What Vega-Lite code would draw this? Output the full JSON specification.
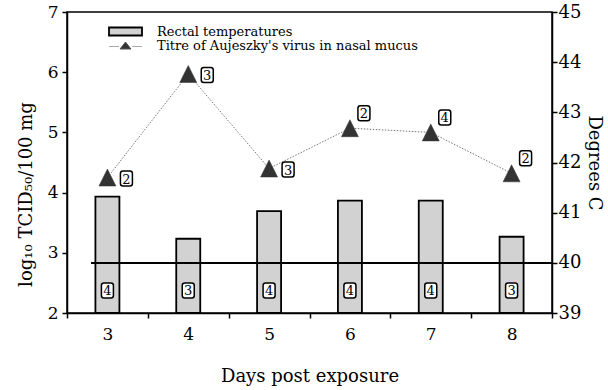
{
  "$schema": "https://vega.github.io/schema/vega-lite/v6.json",
  "width": 485,
  "height": 301,
  "autosize": {"type": "none"},
  "padding": {"left": 67, "top": 12, "right": 56, "bottom": 77},
  "background": "white",
  "config": {
    "font": "DejaVu Serif",
    "view": {"stroke": "black", "strokeWidth": 1.5},
    "axis": {
      "labelFont": "DejaVu Serif", "titleFont": "DejaVu Serif",
      "labelColor": "black", "titleColor": "black",
      "domainColor": "black", "tickColor": "black",
      "domainWidth": 1.5, "tickWidth": 1.5, "grid": false,
      "titleFontWeight": "normal", "labelFontSize": 17, "titleFontSize": 18
    },
    "legend": {"labelFont": "DejaVu Serif", "labelFontSize": 13, "labelColor": "black", "labelLimit": 400, "title": null, "symbolSize": 100, "orient": "none"}
  },
  "data": {"values": [
    {"day": 3, "temp": 41.32, "titre": 4.25, "n_temp": 4, "n_titre": 2},
    {"day": 4, "temp": 40.48, "titre": 5.97, "n_temp": 3, "n_titre": 3},
    {"day": 5, "temp": 41.03, "titre": 4.40, "n_temp": 4, "n_titre": 3},
    {"day": 6, "temp": 41.24, "titre": 5.07, "n_temp": 4, "n_titre": 2},
    {"day": 7, "temp": 41.24, "titre": 5.00, "n_temp": 4, "n_titre": 4},
    {"day": 8, "temp": 40.52, "titre": 4.32, "n_temp": 3, "n_titre": 2}
  ]},
  "encoding": {
    "x": {
      "field": "day", "type": "ordinal",
      "scale": {"paddingInner": 0, "paddingOuter": 0},
      "axis": {"title": "Days post exposure", "labelAngle": 0, "tickBand": "extent", "tickSize": 5, "labelPadding": 8, "titlePadding": 25}
    }
  },
  "layer": [
    {
      "layer": [
        {
          "mark": {"type": "bar", "size": 24, "stroke": "black", "strokeWidth": 1.8},
          "encoding": {
            "y": {
              "field": "temp", "type": "quantitative",
              "scale": {"domain": [39, 45], "nice": false, "zero": false},
              "axis": {"orient": "right", "title": "Degrees C", "values": [39, 40, 41, 42, 43, 44, 45], "tickSize": 5, "labelPadding": 1, "labelFontSize": 18, "titlePadding": 4}
            },
            "y2": {"datum": 39},
            "fill": {
              "datum": "Rectal temperatures", "type": "nominal",
              "scale": {"range": ["#d2d2d2"]},
              "legend": {
                "orient": "none", "legendX": 52, "legendY": 13, "title": null,
                "symbolSize": 100, "labelFontSize": 13, "labelFont": "DejaVu Serif",
                "labelLimit": 400, "labelOffset": 25,
                "symbolType": "M-3.3,-0.8H3.3V0.8H-3.3Z", "symbolStrokeColor": "black", "symbolStrokeWidth": 1.8
              }
            }
          }
        },
        {
          "mark": {"type": "rule", "color": "black", "strokeWidth": 1.6},
          "encoding": {
            "x": {"datum": 3, "type": "ordinal", "bandPosition": 0.3},
            "x2": {"datum": 8, "bandPosition": 1},
            "y": {"datum": 40, "type": "quantitative"}
          }
        },
        {
          "mark": {"type": "point", "shape": "M-0.7,-1.5H0.7Q1.2,-1.5 1.2,-1V1Q1.2,1.5 0.7,1.5H-0.7Q-1.2,1.5 -1.2,1V-1Q-1.2,-1.5 -0.7,-1.5Z", "size": 100, "filled": true, "fill": "white", "stroke": "black", "strokeWidth": 1.5, "opacity": 1},
          "encoding": {"y": {"datum": 39.45, "type": "quantitative"}}
        },
        {
          "mark": {"type": "text", "fontSize": 13, "color": "black", "baseline": "middle", "align": "center", "dy": 1},
          "encoding": {"y": {"datum": 39.45, "type": "quantitative"}, "text": {"field": "n_temp"}}
        }
      ]
    },
    {
      "encoding": {
        "y": {
          "field": "titre", "type": "quantitative",
          "scale": {"domain": [2, 7], "nice": false, "zero": false},
          "axis": {"orient": "left", "title": "log₁₀ TCID₅₀/100 mg", "values": [2, 3, 4, 5, 6, 7], "tickSize": 5, "labelPadding": 4, "titlePadding": 12, "titleY": 182}
        }
      },
      "layer": [
        {
          "mark": {"type": "line", "color": "#777777", "strokeWidth": 1, "strokeDash": [1.5, 1.5]}
        },
        {
          "mark": {"type": "point", "shape": "M0,-1L1,1L-1,1Z", "size": 289, "filled": true, "opacity": 1, "stroke": "#333333", "strokeWidth": 0.5},
          "encoding": {"fill": {
            "datum": "Titre of Aujeszky's virus in nasal mucus", "type": "nominal",
            "scale": {"range": ["#333333"]},
            "legend": {
              "orient": "none", "legendX": 52, "legendY": 27, "title": null,
              "symbolSize": 100, "labelFontSize": 13, "labelFont": "DejaVu Serif",
              "labelLimit": 400, "labelOffset": 25,
              "symbolType": "M0,-0.7L1.1,0.7L-1.1,0.7ZM-3.2,0.2h0.2M-2.8,0.2h0.2M-2.4,0.2h0.2M-2,0.2h0.2M-1.6,0.2h0.2M1.4,0.2h0.2M1.8,0.2h0.2M2.2,0.2h0.2M2.6,0.2h0.2M3,0.2h0.2",
              "symbolStrokeColor": "#555555", "symbolStrokeWidth": 1
            }
          }}
        },
        {
          "transform": [{"filter": "datum.day <= 5"}],
          "mark": {"type": "point", "shape": "M3.1,-1.3H4.5Q5,-1.3 5,-0.8V1.2Q5,1.7 4.5,1.7H3.1Q2.6,1.7 2.6,1.2V-0.8Q2.6,-1.3 3.1,-1.3Z", "size": 100, "filled": true, "fill": "white", "stroke": "black", "strokeWidth": 1.5, "opacity": 1}
        },
        {
          "transform": [{"filter": "datum.day <= 5"}],
          "mark": {"type": "text", "fontSize": 13, "color": "black", "baseline": "middle", "align": "center", "dx": 19, "dy": 2},
          "encoding": {"text": {"field": "n_titre"}}
        },
        {
          "transform": [{"filter": "datum.day >= 6"}],
          "mark": {"type": "point", "shape": "M2.1,-4.5H3.5Q4,-4.5 4,-4V-2Q4,-1.5 3.5,-1.5H2.1Q1.6,-1.5 1.6,-2V-4Q1.6,-4.5 2.1,-4.5Z", "size": 100, "filled": true, "fill": "white", "stroke": "black", "strokeWidth": 1.5, "opacity": 1}
        },
        {
          "transform": [{"filter": "datum.day >= 6"}],
          "mark": {"type": "text", "fontSize": 13, "color": "black", "baseline": "middle", "align": "center", "dx": 14, "dy": -14},
          "encoding": {"text": {"field": "n_titre"}}
        }
      ]
    }
  ],
  "resolve": {"scale": {"y": "independent", "fill": "independent"}}
}
